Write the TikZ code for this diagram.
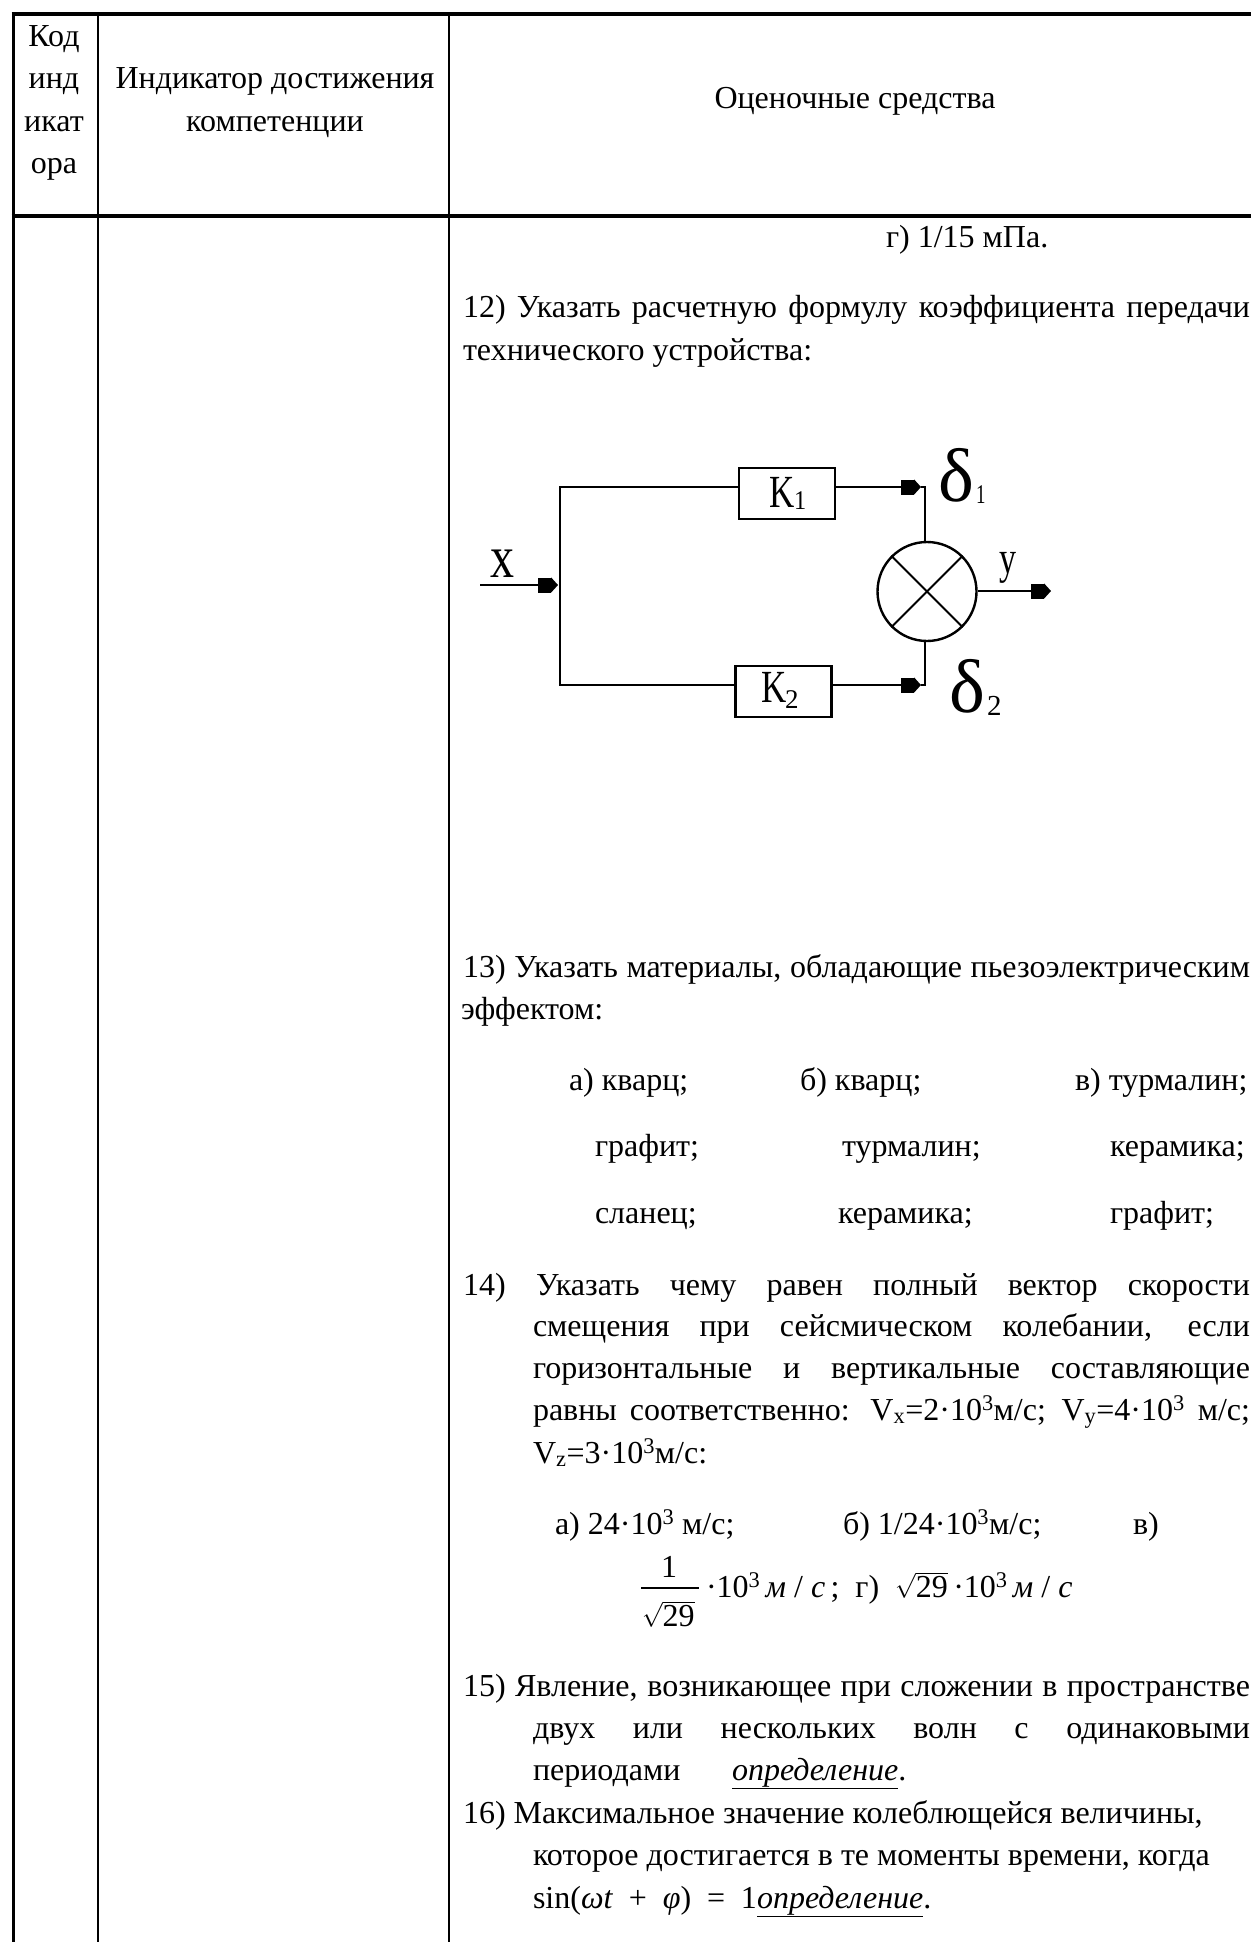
\documentclass[tikz,border=0pt]{standalone}
\usepackage{fontspec}
\setmainfont{Liberation Serif}
\usetikzlibrary{arrows.meta,calc}
\newcommand{\tln}[4]{\node[txt] (#1) at (#2,#3) {#4};}
\newcommand{\tlc}[4]{\node[txt,anchor=base] (#1) at (#2,#3) {#4};}
\newcommand{\tlj}[5]{\node[txt] (#1) at (#2,#3) {\makebox[#4pt][s]{#5}};}
\newcommand{\dotten}{·10\textsuperscript{3}}
\tikzset{
  txt/.style={anchor=base west,inner sep=0pt,outer sep=0pt,font=\fontsize{32}{38}\selectfont},
  rule/.style={line width=#1,black},
  dbox/.style={draw,line width=2.6pt,minimum width=96pt,minimum height=51pt,inner sep=0pt},
  sumnode/.style={draw,circle,line width=2.4pt,minimum size=99pt,inner sep=0pt},
  wire/.style={line width=2.6pt,line join=miter},
  cross/.style={line width=1.8pt},
  flow/.style={wire,-{Square[length=13pt,width=15pt,sep=0pt]Triangle[length=7pt,width=15pt]}},
  dlab/.style={inner sep=0pt,outer sep=0pt,anchor=base west}
}
\begin{document}
\begin{tikzpicture}[x=1pt,y=-1pt]
\useasboundingbox (0,0) rectangle (1251,1942);
% table rules
\coordinate (tl) at (11.5,14);
\coordinate (tr) at (1251,14);
\coordinate (hl) at (11.5,216);
\coordinate (hr) at (1251,216);
\coordinate (bl) at (13,1942);
\coordinate (c1t) at (98,14);
\coordinate (c1b) at (98,1942);
\coordinate (c2t) at (449,14);
\coordinate (c2b) at (449,1942);
\draw[rule=4pt] (tl) -- (tr);
\draw[rule=4pt] (hl) -- (hr);
\draw[rule=3pt] (13,14) -- (bl);
\draw[rule=2pt] (c1t) -- (c1b);
\draw[rule=2pt] (c2t) -- (c2b);
% header
\tlc{h1}{54}{47}{Код}
\tlc{h2}{54}{89}{инд}
\tlc{h3}{54}{132}{икат}
\tlc{h4}{54}{174}{ора}
\tlc{h5}{275}{89}{Индикатор достижения}
\tlc{h6}{275}{132}{компетенции}
\tlc{h7}{855}{109}{Оценочные средства}
% body
\tln{a0}{886}{248}{г) 1/15 мПа.}
\tlj{q12a}{463}{318}{787}{12) Указать расчетную формулу коэффициента передачи}
\tln{q12b}{463}{360}{технического устройства:}
% diagram
\node[dbox] (K1) at (787,493.5) {};
\node[dbox] (K2) at (783.5,691.5) {};
\node[sumnode] (sum) at (927,591.5) {};
\coordinate (in0) at (480,585);
\coordinate (intip) at (558,585);
\coordinate (jt) at (560,487);
\coordinate (jb) at (560,685);
\coordinate (t1) at (921,487);
\coordinate (c1) at (925,487);
\coordinate (t2) at (921,685);
\coordinate (c2) at (925,685);
\coordinate (ytip) at (1051,591);
\draw[flow] (in0) -- (intip);
\draw[wire] (K1.west |- jt) -- (jt) -- (jb) -- (K2.west |- jb);
\draw[flow] (K1.east |- t1) -- (t1);
\draw[wire] (t1) -- (c1) -- (c1 |- sum.north);
\draw[flow] (K2.east |- t2) -- (t2);
\draw[wire] (t2) -- (c2) -- (c2 |- sum.south);
\draw[cross] (sum.north west) -- (sum.south east);
\draw[cross] (sum.north east) -- (sum.south west);
\draw[flow] (sum.east |- ytip) -- (ytip);
\node[dlab] (lk1) at (769,507) {\scalebox{.76}[1]{\fontsize{46}{46}\selectfont K}};
\node[dlab] (lk1s) at (794,509) {\scalebox{.9}[1]{\fontsize{27}{27}\selectfont 1}};
\node[dlab] (lk2) at (761,702) {\scalebox{.76}[1]{\fontsize{46}{46}\selectfont K}};
\node[dlab] (lk2s) at (785,708) {\scalebox{1}[1]{\fontsize{27}{27}\selectfont 2}};
\node[dlab] (lx) at (490,577) {\scalebox{1}[1.25]{\fontsize{48}{48}\selectfont x}};
\node[dlab] (ly) at (999,573) {\scalebox{.74}[1]{\fontsize{46}{46}\selectfont y}};
\node[dlab] (ld1) at (938,501) {\fontsize{76}{76}\selectfont δ};
\node[dlab] (ld1s) at (976,503) {\scalebox{.7}[1]{\fontsize{27}{27}\selectfont 1}};
\node[dlab] (ld2) at (949,712) {\fontsize{76}{76}\selectfont δ};
\node[dlab] (ld2s) at (987,715) {\fontsize{29}{29}\selectfont 2};
% q13
\tlj{q13a}{463}{977}{787}{13) Указать материалы, обладающие пьезоэлектрическим}
\tln{q13b}{461}{1019}{эффектом:}
\tln{m1}{569}{1090}{а) кварц;}
\tln{m2}{800}{1090}{б) кварц;}
\tln{m3}{1075}{1090}{в) турмалин;}
\tln{m4}{595}{1156}{графит;}
\tln{m5}{842}{1156}{турмалин;}
\tln{m6}{1110}{1156}{керамика;}
\tln{m7}{595}{1223}{сланец;}
\tln{m8}{838}{1223}{керамика;}
\tln{m9}{1110}{1223}{графит;}
% q14
\tln{q14n}{463}{1295}{14)}
\tlj{q14a}{536}{1295}{714}{Указать чему равен полный вектор скорости}
\tlj{q14b}{533}{1336}{717}{смещения при сейсмическом колебании, если}
\tlj{q14c}{533}{1378}{717}{горизонтальные и вертикальные составляющие}
\tlj{q14d}{533}{1420}{717}{равны соответственно: V\textsubscript{x}=2\dotten м/с; V\textsubscript{y}=4\dotten{} м/с;}
\tln{q14e}{533}{1463}{V\textsubscript{z}=3\dotten м/с:}
\tln{v1}{555}{1534}{а) 24\dotten{} м/с;}
\tln{v2}{843}{1534}{б) 1/24\dotten м/с;}
\tln{v3}{1133}{1534}{в)}
\tln{v4}{661}{1577}{1}
\coordinate (barl) at (641,1588);
\coordinate (barr) at (699,1588);
\draw[line width=1.3pt] (barl) -- (barr);
\tln{v5}{642}{1626}{$\sqrt{\mbox{29}}$}
\tln{v6}{706}{1597}{\dotten{}\,\textit{м} / \textit{с}\,;~ г)~ $\sqrt{\mbox{29}}$\,\dotten{}\,\textit{м} / \textit{с}}
% q15, q16
\tlj{q15a}{463}{1696}{787}{15) Явление, возникающее при сложении в пространстве}
\tlj{q15b}{533}{1738}{717}{двух или нескольких волн с одинаковыми}
\tln{q15c}{533}{1780}{периодами}
\tln{q15d}{732}{1780}{\underline{\textit{определение}}.}
\tln{q16a}{463}{1823}{16) Максимальное значение колеблющейся величины,}
\tln{q16b}{533}{1865}{которое достигается в те моменты времени, когда}
\tlj{q16c}{533}{1908}{224}{sin(\textit{ωt} + \textit{φ}) = 1}
\tln{q16d}{757}{1908}{\underline{\textit{определение}}.}
\end{tikzpicture}
\end{document}
